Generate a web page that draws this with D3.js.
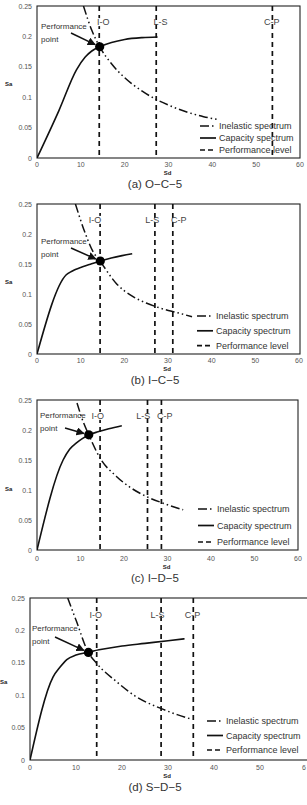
<!DOCTYPE html>
<html>
<head>
<meta charset="utf-8">
<script src="https://cdn.jsdelivr.net/npm/d3@7"></script>
<style>
  body { margin: 0; background: #fff; }
  svg { display: block; }
</style>
</head>
<body>
<script>
// axis ticks, shared by all four panels
var xTicks = [0, 10, 20, 30, 40, 50, 60];
var yTicks = [0, 0.05, 0.1, 0.15, 0.2, 0.25];
var yTickLabels = ['0', '0.05', '0.1', '0.15', '0.2', '0.25'];
var levelLabels = ['I-O', 'L-S', 'C-P'];
var legendLabels = ['Inelastic spectrum', 'Capacity  spectrum', 'Performance level'];
var panelTitles = ['(a)  O\u2212C\u22125', '(b)  I\u2212C\u22125', '(c)  I\u2212D\u22125', '(d)  S\u2212D\u22125'];

// (a) O-C-5
var capSdA = [0, 5, 9, 11, 12.5, 14.3, 17, 20, 24, 27.5];
var capSaA = [0, 0.078, 0.145, 0.166, 0.176, 0.183, 0.19, 0.195, 0.198, 0.199];
var inelSdA = [10.6, 12.5, 14.3, 17, 20, 24, 27, 30, 34, 38, 41.5];
var inelSaA = [0.25, 0.21, 0.183, 0.155, 0.132, 0.11, 0.097, 0.087, 0.076, 0.068, 0.063];
var ppA = [14.3, 0.183];
var levelsA = [14.2, 27.2, 53.7];

// (b) I-C-5
var capSdB = [0, 6.7, 8, 10, 12, 14.5, 17, 19.5, 21.8];
var capSaB = [0, 0.132, 0.138, 0.144, 0.149, 0.155, 0.16, 0.164, 0.167];
var inelSdB = [8.8, 10.9, 12.8, 14.5, 18.1, 21.9, 25, 28, 32.6, 35.5];
var inelSaB = [0.25, 0.204, 0.171, 0.154, 0.118, 0.096, 0.085, 0.077, 0.068, 0.062];
var ppB = [14.5, 0.155];
var levelsB = [14.45, 27, 31.1];

// (c) I-D-5
var capSdC = [0, 6, 7.5, 9, 10.5, 12, 14, 16.5, 19.5];
var capSaC = [0, 0.15, 0.168, 0.178, 0.186, 0.192, 0.197, 0.202, 0.207];
var inelSdC = [9.2, 10.5, 11.9, 14.6, 18.2, 21.5, 25.2, 29, 33.6];
var inelSaC = [0.245, 0.216, 0.192, 0.152, 0.123, 0.104, 0.089, 0.078, 0.067];
var ppC = [11.9, 0.192];
var levelsC = [14.5, 25.4, 28.6];

// (d) S-D-5
var capSdD = [0, 5, 6.5, 8, 10, 12.8, 15, 20, 25, 30, 33.6];
var capSaD = [0, 0.128, 0.143, 0.155, 0.162, 0.1665, 0.17, 0.176, 0.18, 0.184, 0.187];
var inelSdD = [8.2, 10.1, 12.6, 14.5, 18.8, 23, 28.3, 32, 35.1];
var inelSaD = [0.25, 0.214, 0.167, 0.149, 0.121, 0.098, 0.08, 0.07, 0.063];
var ppD = [12.7, 0.166];
var levelsD = [14.5, 28.5, 35.5];

// layout of each panel in the 307 x 805 picture
var panels = [
  { title: panelTitles[0], cap: [capSdA, capSaA], inel: [inelSdA, inelSaA], pp: ppA, levels: levelsA,
    L: 37, R: 300, T: 6, B: 158, frameR: 300, tickDy: 9, titleY: 187.5, sa: [5, 86],
    lblDx: [4, 4.3, -0.7], legX: 200, legY: 126, legDy: 12,
    note: [41, 29], arrowFrom: [71, 33] },
  { title: panelTitles[1], cap: [capSdB, capSaB], inel: [inelSdB, inelSaB], pp: ppB, levels: levelsB,
    L: 37, R: 299, T: 204, B: 354, frameR: 300, tickDy: 9, titleY: 383.5, sa: [5, 284],
    lblDx: [-5, -2.7, 6], legX: 197, legY: 316, legDy: 14.8,
    note: [41, 244], arrowFrom: [71, 248] },
  { title: panelTitles[2], cap: [capSdC, capSaC], inel: [inelSdC, inelSaC], pp: ppC, levels: levelsC,
    L: 37, R: 298, T: 400, B: 550, frameR: 298, tickDy: 11, titleY: 582, sa: [5, 491],
    lblDx: [-2.3, -4.3, 3.3], legX: 198, legY: 509, legDy: 16.5,
    note: [40, 418], arrowFrom: [65, 428] },
  { title: panelTitles[3], cap: [capSdD, capSaD], inel: [inelSdD, inelSaD], pp: ppD, levels: levelsD,
    L: 30, R: 306, T: 598, B: 760, frameR: 312, tickDy: 10, titleY: 791, sa: [0, 684],
    lblDx: [-1, -3.7, -0.7], legX: 207, legY: 721, legDy: 14.5,
    note: [32, 631], arrowFrom: [55, 637] }
];

var svg = d3.select('body').append('svg')
  .attr('width', 307)
  .attr('height', 805);

svg.append('rect').attr('width', 307).attr('height', 805).attr('fill', '#fff');

var defs = svg.append('defs');
defs.append('marker')
  .attr('id', 'arrow')
  .attr('viewBox', '0 0 10 10')
  .attr('refX', 9)
  .attr('refY', 5)
  .attr('markerWidth', 5.5)
  .attr('markerHeight', 5.5)
  .attr('orient', 'auto')
  .append('path')
  .attr('d', 'M0,0 L10,5 L0,10 z')
  .attr('fill', '#111');

var tickFont = '"Liberation Sans", Arial, sans-serif';
var inelDash = '9,3,1.5,3,1.5,3';

panels.forEach((p, i) => {
  var x = d3.scaleLinear().domain([0, 60]).range([p.L, p.R]);
  var y = d3.scaleLinear().domain([0, 0.25]).range([p.B, p.T]);
  var g = svg.append('g');

  defs.append('clipPath').attr('id', 'clip' + i)
    .append('rect')
    .attr('x', p.L).attr('y', p.T)
    .attr('width', p.frameR - p.L).attr('height', p.B - p.T);

  // frame
  g.append('rect')
    .attr('x', p.L).attr('y', p.T)
    .attr('width', p.frameR - p.L).attr('height', p.B - p.T)
    .attr('fill', 'none')
    .attr('stroke', '#222')
    .attr('stroke-width', 1.1);

  // tick labels
  g.selectAll('.yt').data(yTicks).enter().append('text')
    .attr('x', p.L - 5)
    .attr('y', d => y(d) + 2.5)
    .attr('text-anchor', 'end')
    .attr('font-family', tickFont)
    .attr('font-size', 7)
    .attr('fill', '#555')
    .text((d, k) => yTickLabels[k]);

  g.selectAll('.xt').data(xTicks).enter().append('text')
    .attr('x', d => x(d))
    .attr('y', p.B + p.tickDy)
    .attr('text-anchor', d => d == 60 && p.R > 304 ? 'end' : 'middle')
    .attr('font-family', tickFont)
    .attr('font-size', 7)
    .attr('fill', '#555')
    .text(d => d == 60 && p.R > 304 ? '6' : d);

  // axis names
  g.append('text')
    .attr('x', x(30) - 1).attr('y', p.titleY - 13)
    .attr('text-anchor', 'middle')
    .attr('font-family', tickFont).attr('font-size', 6).attr('font-weight', 'bold')
    .attr('fill', '#222')
    .text('Sd');
  g.append('text')
    .attr('x', p.sa[0]).attr('y', p.sa[1])
    .attr('font-family', tickFont).attr('font-size', 6).attr('font-weight', 'bold')
    .attr('fill', '#222')
    .text('Sa');

  // panel title
  g.append('text')
    .attr('x', 155).attr('y', p.titleY)
    .attr('text-anchor', 'middle')
    .attr('font-family', tickFont)
    .attr('font-size', 11.5)
    .attr('fill', '#333')
    .text(p.title);

  var plot = g.append('g').attr('clip-path', 'url(#clip' + i + ')');

  // performance levels
  p.levels.forEach((lv, k) => {
    plot.append('line')
      .attr('x1', x(lv)).attr('x2', x(lv))
      .attr('y1', p.T).attr('y2', p.B)
      .attr('stroke', '#111')
      .attr('stroke-width', 1.7)
      .attr('stroke-dasharray', '5,4');
    var lbl = plot.append('text')
      .attr('x', x(lv) + p.lblDx[k]).attr('y', y(0.224) + 3.3)
      .attr('text-anchor', 'middle')
      .attr('font-family', tickFont)
      .attr('font-size', 9)
      .attr('fill', '#444')
      .text(levelLabels[k]);
    var bb = lbl.node().getBBox();
    plot.insert('rect', 'text')
      .attr('x', bb.x - 0.5).attr('y', bb.y + 1)
      .attr('width', bb.width + 1).attr('height', bb.height - 2)
      .attr('fill', '#fff');
  });
  plot.selectAll('text').raise();

  // inelastic demand spectrum
  var inelPts = p.inel[0].map((d, k) => [d, p.inel[1][k]]);
  plot.append('path')
    .datum(inelPts)
    .attr('fill', 'none')
    .attr('stroke', '#111')
    .attr('stroke-width', 1.5)
    .attr('stroke-dasharray', inelDash)
    .attr('d', d3.line().x(d => x(d[0])).y(d => y(d[1])).curve(d3.curveMonotoneX));

  // capacity spectrum
  var capPts = p.cap[0].map((d, k) => [d, p.cap[1][k]]);
  plot.append('path')
    .datum(capPts)
    .attr('fill', 'none')
    .attr('stroke', '#111')
    .attr('stroke-width', 1.6)
    .attr('d', d3.line().x(d => x(d[0])).y(d => y(d[1])).curve(d3.curveMonotoneX));

  // performance point
  var px = x(p.pp[0]), py = y(p.pp[1]);
  g.append('circle')
    .attr('cx', px).attr('cy', py)
    .attr('r', 4.6)
    .attr('fill', '#000');

  // annotation
  var note = g.append('text')
    .attr('font-family', tickFont)
    .attr('font-size', 8)
    .attr('fill', '#333');
  note.append('tspan').attr('x', p.note[0]).attr('y', p.note[1]).text('Performance');
  note.append('tspan').attr('x', p.note[0]).attr('y', p.note[1] + 12.5).text('point');

  var ax = p.arrowFrom[0], ay = p.arrowFrom[1];
  var dx = px - ax, dy = py - ay, len = Math.sqrt(dx * dx + dy * dy);
  g.append('line')
    .attr('x1', ax).attr('y1', ay)
    .attr('x2', px - dx / len * 5).attr('y2', py - dy / len * 5)
    .attr('stroke', '#111')
    .attr('stroke-width', 1.5)
    .attr('marker-end', 'url(#arrow)');

  // legend
  var dashes = [inelDash, null, '5,3'];
  legendLabels.forEach((lab, k) => {
    var ly = p.legY + k * p.legDy;
    g.append('line')
      .attr('x1', p.legX).attr('x2', p.legX + 16)
      .attr('y1', ly).attr('y2', ly)
      .attr('stroke', '#111')
      .attr('stroke-width', 1.7)
      .attr('stroke-dasharray', dashes[k]);
    g.append('text')
      .attr('x', p.legX + 19).attr('y', ly + 3.2)
      .attr('font-family', tickFont)
      .attr('font-size', 9)
      .attr('fill', '#333')
      .text(lab);
  });
});
</script>
</body>
</html>
